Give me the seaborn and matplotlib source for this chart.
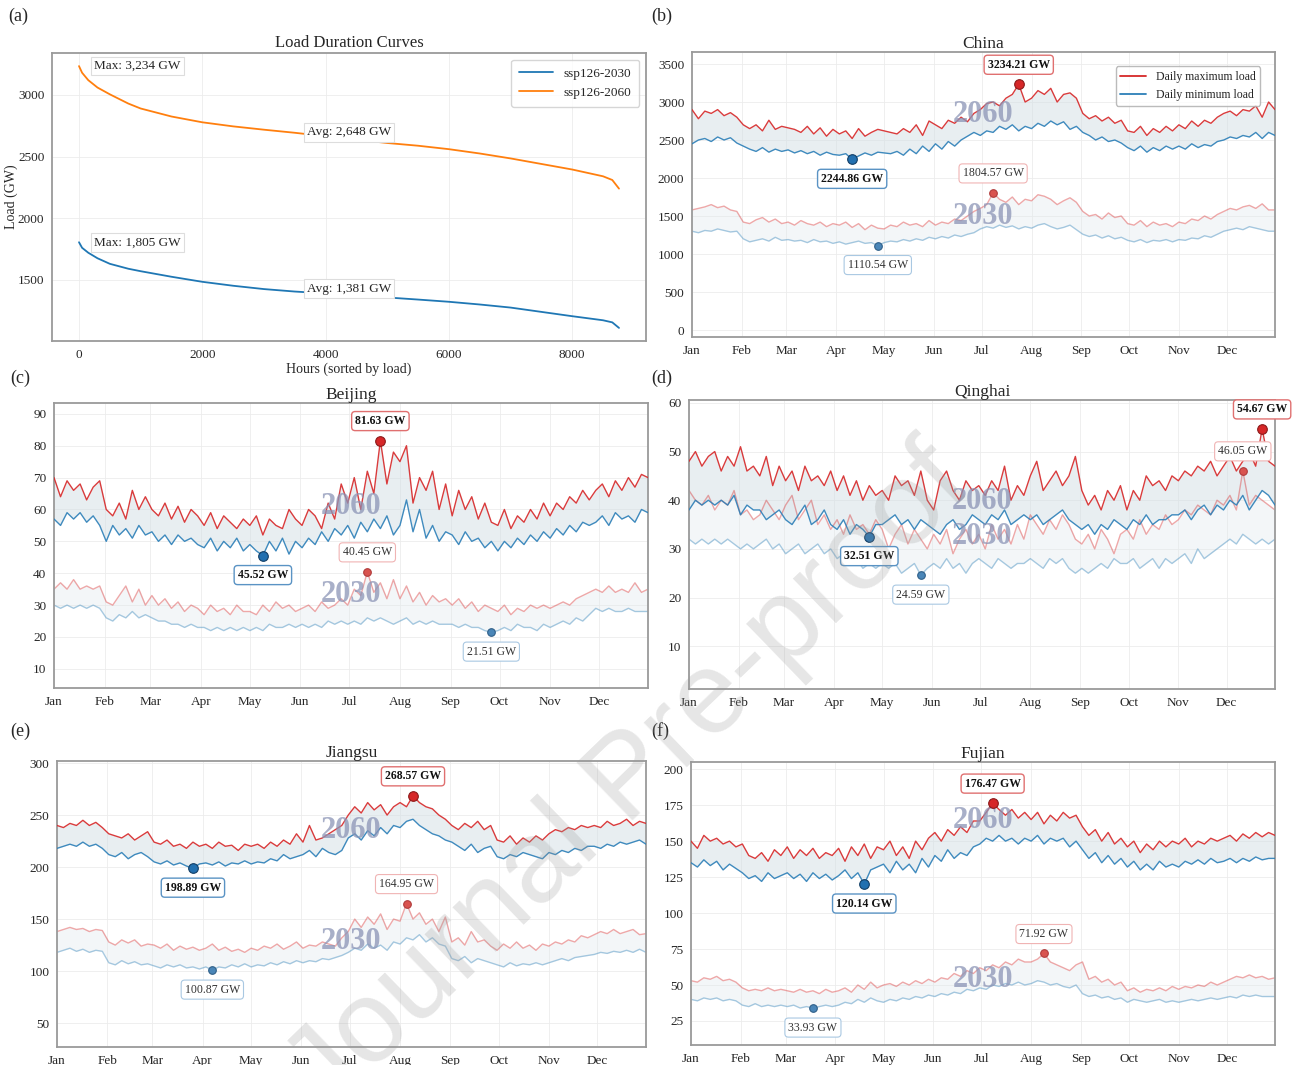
import numpy as np
import pandas as pd
import matplotlib
matplotlib.use("Agg")
import matplotlib.pyplot as plt
import matplotlib.dates as mdates
from matplotlib.lines import Line2D
import seaborn as sns

# ---------------- data ----------------
# load duration curves (national, hourly load sorted descending)
HOURS = [0, 50, 150, 300, 500, 800, 1000, 1500, 2000, 2500, 3000, 3500, 4000,
         4500, 5000, 5500, 6000, 6500, 7000, 7500, 8000, 8500, 8650, 8759]
LDC_2030 = [1805, 1760, 1720, 1675, 1630, 1590, 1570, 1525, 1484, 1452, 1425, 1405, 1390,
            1373, 1357, 1340, 1322, 1300, 1275, 1240, 1205, 1172, 1155, 1110]
LDC_2060 = [3234, 3180, 3120, 3060, 3005, 2930, 2890, 2825, 2778, 2745, 2718, 2693, 2665,
            2638, 2610, 2588, 2560, 2525, 2485, 2440, 2395, 2340, 2310, 2240]
AVG_2030 = 1381
AVG_2060 = 2648
SCENARIOS = ["ssp126-2030", "ssp126-2060"]

# daily maximum / minimum load, one value every 4 days (GW)
china_max_2060 = [2900, 2780, 2880, 2850, 2900, 2820, 2860, 2800,
                  2700, 2650, 2700, 2620, 2760, 2640, 2680,
                  2660, 2640, 2600, 2680, 2580, 2660, 2550, 2640,
                  2580, 2620, 2520, 2650, 2550, 2600, 2640,
                  2620, 2600, 2580, 2650, 2600, 2700, 2560, 2750,
                  2700, 2650, 2760, 2720, 2800, 2740, 2850,
                  2900, 2980, 3000, 2950, 3050, 3100, 3234.21, 3000,
                  3050, 3150, 3100, 3180, 3000, 3100, 3120, 3050,
                  2850, 2780, 2820, 2750, 2800, 2720, 2760,
                  2620, 2600, 2680, 2560, 2650, 2600, 2680, 2620,
                  2700, 2650, 2750, 2680, 2760, 2720, 2800,
                  2850, 2880, 2820, 2900, 2880, 2950, 2800, 3000, 2900]
china_min_2060 = [2450, 2500, 2520, 2480, 2540, 2500, 2530, 2460,
                  2420, 2380, 2350, 2400, 2340, 2380, 2350,
                  2370, 2330, 2360, 2320, 2350, 2300, 2340, 2310,
                  2300, 2320, 2244.86, 2290, 2330, 2300, 2340,
                  2330, 2320, 2350, 2300, 2380, 2320, 2420, 2350,
                  2450, 2380, 2480, 2420, 2500, 2550, 2600,
                  2560, 2620, 2600, 2680, 2640, 2700, 2620, 2680,
                  2650, 2720, 2680, 2750, 2700, 2740, 2640, 2680,
                  2600, 2560, 2500, 2540, 2480, 2500, 2460,
                  2400, 2360, 2420, 2340, 2400, 2360, 2420, 2380,
                  2420, 2380, 2450, 2400, 2440, 2420, 2480,
                  2500, 2540, 2520, 2560, 2540, 2600, 2520, 2600, 2560]
china_max_2030 = [1580, 1600, 1620, 1650, 1610, 1630, 1580, 1560,
                  1420, 1400, 1450, 1480, 1420, 1460, 1400,
                  1420, 1380, 1440, 1400, 1380, 1420, 1360, 1400,
                  1380, 1420, 1350, 1400, 1320, 1380, 1340,
                  1330, 1380, 1360, 1420, 1380, 1400, 1360, 1440,
                  1380, 1420, 1400, 1460, 1440, 1500, 1560,
                  1600, 1650, 1804.57, 1720, 1680, 1750, 1650, 1720,
                  1700, 1780, 1760, 1720, 1650, 1700, 1740, 1680,
                  1560, 1500, 1520, 1460, 1540, 1480, 1500,
                  1400, 1380, 1440, 1360, 1420, 1380, 1400, 1360,
                  1420, 1400, 1460, 1440, 1500, 1460, 1520,
                  1560, 1600, 1580, 1620, 1640, 1600, 1660, 1580, 1580]
china_min_2030 = [1300, 1280, 1310, 1300, 1330, 1310, 1290, 1300,
                  1200, 1160, 1180, 1200, 1170, 1220, 1180,
                  1190, 1170, 1180, 1150, 1190, 1160, 1170, 1140,
                  1160, 1130, 1150, 1170, 1140, 1150, 1110.54,
                  1150, 1170, 1160, 1190, 1170, 1200, 1180, 1220,
                  1200, 1230, 1210, 1250, 1230, 1260, 1280,
                  1330, 1360, 1340, 1380, 1350, 1370, 1330, 1360,
                  1340, 1380, 1400, 1360, 1330, 1350, 1380, 1320,
                  1260, 1230, 1250, 1210, 1240, 1200, 1220,
                  1180, 1160, 1190, 1150, 1180, 1170, 1190, 1160,
                  1190, 1180, 1210, 1200, 1240, 1220, 1260,
                  1300, 1320, 1340, 1320, 1360, 1340, 1320, 1300, 1300]

beijing_max_2060 = [70, 64, 69, 66, 68, 63, 67, 69,
                    60, 58, 62, 57, 66, 60, 64,
                    60, 58, 62, 57, 61, 56, 60, 58,
                    55, 59, 54, 58, 56, 54, 57,
                    55, 58, 52, 57, 55, 54, 60, 57,
                    55, 60, 58, 54, 62, 57, 68,
                    62, 70, 60, 72, 65, 81.63, 68, 78,
                    75, 80, 62, 70, 66, 72, 60, 68,
                    58, 66, 60, 64, 57, 62, 56,
                    55, 60, 54, 58, 56, 60, 57, 62,
                    58, 62, 60, 64, 62, 66, 63,
                    66, 68, 64, 69, 66, 70, 67, 71, 70]
beijing_min_2060 = [57, 55, 59, 57, 59, 56, 58, 55,
                    50, 55, 52, 54, 51, 55, 52,
                    53, 50, 52, 49, 52, 50, 51, 49,
                    48, 51, 47, 50, 48, 51, 47,
                    49, 47, 45.52, 50, 47, 51, 46, 50,
                    48, 51, 49, 53, 50, 54, 52,
                    55, 51, 56, 53, 57, 54, 58, 52,
                    55, 63, 53, 60, 51, 55, 50, 53,
                    52, 49, 53, 50, 51, 48, 50,
                    47, 50, 48, 51, 49, 52, 50, 53,
                    51, 54, 52, 55, 53, 56, 55,
                    56, 58, 55, 59, 57, 58, 56, 60, 59]
beijing_max_2030 = [35, 37, 35, 38, 35, 36, 35, 36,
                    31, 30, 33, 36, 31, 35, 30,
                    33, 30, 32, 29, 31, 28, 30, 29,
                    27, 30, 28, 29, 27, 30, 28,
                    28, 27, 30, 28, 31, 29, 30, 28,
                    29, 30, 28, 31, 29, 30, 32,
                    30, 35, 33, 40.45, 34, 37, 32, 38,
                    32, 36, 31, 34, 30, 33, 31, 32,
                    30, 32, 29, 31, 28, 30, 29,
                    28, 30, 27, 29, 28, 30, 29, 30,
                    29, 30, 31, 30, 32, 33, 34,
                    35, 34, 36, 34, 35, 34, 37, 34, 35]
beijing_min_2030 = [30, 29, 30, 29, 30, 29, 30, 29,
                    26, 25, 27, 26, 28, 26, 27,
                    26, 25, 25, 24, 24, 23, 24, 23,
                    23, 22, 23, 22, 23, 22, 23,
                    22, 23, 22, 24, 23, 23, 24, 23,
                    24, 23, 24, 23, 25, 24, 25,
                    24, 25, 24, 26, 25, 26, 25, 24,
                    25, 26, 24, 25, 24, 25, 24, 24,
                    24, 23, 24, 23, 23, 22, 21.51,
                    22, 23, 22, 24, 23, 23, 22, 24,
                    23, 24, 25, 24, 26, 25, 27,
                    29, 28, 29, 28, 28, 29, 28, 28, 28]

qinghai_max_2060 = [48, 50, 47, 49, 50, 46, 49, 47,
                    51, 46, 47, 45, 49, 43, 47,
                    44, 46, 42, 47, 44, 45, 43, 46,
                    42, 45, 41, 44, 40, 43, 41,
                    42, 40, 45, 43, 44, 41, 46, 40,
                    38, 44, 46, 42, 40, 44, 42,
                    43, 41, 44, 42, 47, 40, 43, 41,
                    45, 48, 42, 44, 46, 43, 45, 49,
                    42, 39, 41, 38, 42, 40, 43,
                    38, 42, 40, 45, 43, 44, 42, 45,
                    44, 46, 45, 47, 46, 48, 45,
                    47, 49, 46, 48, 50, 47, 54.67, 48, 47]
qinghai_min_2060 = [38, 40, 39, 40, 39, 40, 39, 41,
                    37, 39, 38, 38, 36, 37, 38,
                    36, 35, 37, 39, 35, 36, 38, 35,
                    34, 36, 33, 35, 34, 32.51, 35,
                    35, 36, 37, 35, 36, 34, 36, 35,
                    34, 33, 35, 36, 34, 35, 37,
                    36, 35, 37, 36, 38, 35, 36, 37,
                    36, 37, 35, 36, 37, 38, 36, 35,
                    34, 35, 33, 35, 34, 36, 35,
                    34, 36, 35, 37, 35, 36, 36, 37,
                    37, 38, 36, 38, 39, 37, 39,
                    38, 40, 39, 41, 38, 40, 42, 41, 39]
qinghai_max_2030 = [42, 40, 39, 41, 38, 40, 39, 42,
                    37, 38, 36, 37, 40, 38, 36,
                    39, 41, 36, 38, 40, 35, 37, 34,
                    36, 33, 37, 34, 35, 33, 36,
                    34, 30, 33, 35, 31, 34, 32, 30,
                    33, 31, 34, 29, 32, 34, 31,
                    33, 30, 35, 32, 34, 31, 35, 32,
                    37, 35, 33, 36, 34, 37, 35, 32,
                    31, 33, 30, 34, 32, 29, 33,
                    34, 32, 36, 33, 35, 34, 37, 35,
                    36, 38, 37, 39, 38, 37, 40,
                    39, 41, 38, 46.05, 39, 41, 40, 39, 38]
qinghai_min_2030 = [32, 31, 32, 31, 32, 31, 32, 31,
                    30, 31, 30, 31, 32, 30, 31,
                    29, 30, 31, 29, 30, 31, 29, 30,
                    28, 29, 27, 28, 26, 27, 26,
                    27, 26, 27, 25, 26, 27, 24.59, 26,
                    27, 26, 28, 26, 27, 25, 27,
                    28, 27, 26, 28, 27, 26, 27, 27,
                    28, 27, 26, 28, 27, 28, 26, 25,
                    26, 25, 26, 27, 26, 28, 27,
                    27, 28, 26, 27, 28, 26, 28, 27,
                    28, 29, 27, 30, 28, 29, 30,
                    31, 32, 31, 33, 32, 31, 32, 31, 32]

jiangsu_max_2060 = [240, 238, 242, 240, 245, 240, 243, 238,
                    232, 230, 228, 232, 226, 230, 234,
                    224, 222, 226, 220, 222, 218, 224, 220,
                    222, 218, 224, 220, 221, 216, 222,
                    220, 222, 218, 224, 220, 226, 222, 232,
                    224, 240, 226, 228, 232, 236, 240,
                    250, 258, 252, 262, 255, 260, 250, 258,
                    262, 258, 268.57, 262, 258, 256, 250, 246,
                    240, 236, 242, 238, 244, 236, 240,
                    226, 224, 230, 222, 228, 224, 230, 226,
                    232, 236, 234, 238, 236, 240, 238,
                    240, 238, 244, 240, 242, 246, 240, 244, 242]
jiangsu_min_2060 = [218, 220, 222, 220, 224, 220, 222, 218,
                    212, 210, 214, 208, 212, 214, 210,
                    205, 203, 206, 202, 204, 201, 198.89, 203,
                    204, 202, 205, 201, 204, 203, 206,
                    203, 205, 204, 208, 206, 212, 208, 210,
                    212, 216, 210, 218, 214, 212, 216,
                    228, 232, 226, 235, 230, 238, 232, 240,
                    238, 244, 246, 240, 236, 232, 230, 226,
                    224, 220, 216, 222, 214, 218, 220,
                    210, 208, 212, 210, 214, 212, 210, 208,
                    214, 212, 216, 214, 218, 216, 220,
                    220, 218, 222, 220, 224, 222, 224, 226, 222]
jiangsu_max_2030 = [138, 140, 142, 140, 141, 138, 140, 139,
                    128, 125, 130, 127, 130, 124, 126,
                    125, 122, 126, 120, 124, 121, 123, 120,
                    122, 126, 120, 123, 119, 121, 118,
                    122, 120, 124, 122, 126, 121, 124, 128,
                    122, 125, 124, 128, 126, 124, 132,
                    138, 150, 142, 152, 145, 155, 140, 150,
                    148, 164.95, 150, 156, 145, 150, 138, 152,
                    128, 132, 125, 138, 128, 130, 124,
                    120, 126, 122, 128, 122, 125, 120, 126,
                    124, 128, 126, 130, 128, 134, 132,
                    135, 138, 136, 140, 136, 138, 140, 135, 136]
jiangsu_min_2030 = [118, 120, 122, 119, 121, 118, 120, 119,
                    108, 106, 110, 107, 109, 106, 107,
                    105, 103, 106, 104, 106, 103, 104, 102,
                    104, 100.87, 104, 103, 106, 104, 107,
                    104, 106, 105, 108, 106, 109, 107, 110,
                    108, 110, 109, 112, 111, 113, 115,
                    118, 122, 120, 126, 122, 125, 120, 128,
                    126, 132, 130, 135, 128, 132, 126, 124,
                    112, 110, 114, 108, 112, 110, 108,
                    106, 104, 108, 105, 107, 106, 108, 106,
                    108, 110, 112, 110, 113, 114, 115,
                    116, 118, 117, 119, 118, 120, 118, 121, 118]

fujian_max_2060 = [150, 145, 154, 150, 152, 148, 150, 146,
                   148, 140, 138, 142, 136, 144, 140,
                   146, 138, 144, 140, 145, 138, 142, 140,
                   145, 136, 146, 140, 148, 138, 146,
                   144, 150, 140, 146, 138, 150, 144, 152,
                   156, 150, 158, 154, 160, 156, 164,
                   164, 170, 176.47, 172, 168, 172, 166, 170,
                   165, 170, 162, 168, 164, 170, 166, 168,
                   160, 154, 158, 150, 156, 148, 152,
                   146, 150, 142, 148, 144, 150, 146, 150,
                   148, 152, 146, 150, 148, 152, 150,
                   152, 154, 150, 155, 152, 156, 153, 156, 154]
fujian_min_2060 = [135, 132, 137, 133, 136, 130, 134, 131,
                   128, 124, 126, 122, 128, 124, 126,
                   128, 124, 127, 122, 128, 124, 127, 123,
                   126, 130, 124, 128, 120.14, 130, 132,
                   134, 128, 136, 130, 134, 128, 138, 132,
                   140, 136, 144, 138, 142, 140, 146,
                   148, 152, 150, 154, 150, 152, 148, 152,
                   150, 154, 148, 152, 150, 152, 146, 150,
                   144, 138, 142, 135, 140, 134, 138,
                   132, 136, 130, 134, 130, 136, 132, 134,
                   132, 136, 134, 137, 134, 138, 135,
                   136, 138, 135, 138, 136, 139, 137, 138, 138]
fujian_max_2030 = [53, 52, 55, 54, 56, 53, 54, 52,
                   48, 46, 47, 46, 48, 46, 47,
                   46, 45, 47, 45, 46, 44, 47, 45,
                   46, 48, 45, 50, 47, 52, 48,
                   50, 51, 49, 52, 50, 53, 51, 54,
                   52, 55, 54, 58, 56, 60, 58,
                   62, 60, 64, 62, 66, 64, 68, 66,
                   66, 68, 71.92, 66, 64, 62, 60, 64,
                   66, 54, 56, 52, 54, 50, 52,
                   46, 48, 45, 47, 46, 48, 46, 49,
                   47, 49, 48, 50, 49, 52, 50,
                   52, 54, 56, 55, 57, 55, 56, 54, 55]
fujian_min_2030 = [40, 39, 41, 40, 41, 39, 40, 39,
                   36, 35, 37, 35, 36, 35, 36,
                   35, 36, 34, 35, 33.93, 35, 36, 35,
                   36, 38, 37, 40, 38, 41, 39,
                   38, 40, 39, 41, 40, 42, 41, 43,
                   42, 44, 43, 45, 44, 47, 46,
                   48, 47, 50, 49, 51, 50, 52, 50,
                   51, 53, 52, 50, 51, 49, 48, 50,
                   44, 42, 43, 41, 42, 40, 41,
                   38, 40, 39, 38, 39, 40, 38, 39,
                   38, 39, 40, 39, 40, 41, 40,
                   41, 42, 41, 43, 42, 43, 42, 42, 42]

REGIONS = ["China", "Beijing", "Qinghai", "Jiangsu", "Fujian"]
YEARS = ["2060", "2030"]
LEGEND_LABELS = ["Daily maximum load", "Daily minimum load"]
PANEL_LETTERS = ["(a)", "(b)", "(c)", "(d)", "(e)", "(f)"]

# ---------------- style ----------------
sns.set_style("whitegrid", {"grid.color": "#ececec", "axes.edgecolor": "#9a9a9a"})
plt.rcParams["font.family"] = ["Liberation Serif", "DejaVu Serif"]
plt.rcParams["axes.linewidth"] = 1.3
plt.rcParams["grid.linewidth"] = 0.6

RED = "#d62728"
BLUE = "#2c7fb8"
YEAR_COLOR = "#8b94b6"

fig = plt.figure(figsize=(13.01, 10.65), dpi=100)
W, H = 1301, 1065


def px_axes(left, top, right, bottom):
    return fig.add_axes([left / W, 1 - bottom / H, (right - left) / W, (bottom - top) / H])


# ---------------- (a) load duration curves ----------------
ax = px_axes(52, 53, 646, 341)
ldc = pd.DataFrame({
    "hour": HOURS * 2,
    "load": LDC_2030 + LDC_2060,
    "scenario": [SCENARIOS[0]] * len(HOURS) + [SCENARIOS[1]] * len(HOURS),
})
sns.lineplot(data=ldc, x="hour", y="load", hue="scenario",
             palette=["#1f77b4", "#ff7f0e"], lw=1.3, ax=ax)
box_a = dict(boxstyle="square,pad=0.25", fc="white", ec="#dddddd", lw=0.8)
for curve, avg in [(LDC_2030, AVG_2030), (LDC_2060, AVG_2060)]:
    ax.text(250, curve[0], f"Max: {curve[0]:,.0f} GW", fontsize=9.5,
            ha="left", va="center", bbox=box_a)
    ax.text(max(HOURS) / 2, avg, f"Avg: {avg:,.0f} GW", fontsize=9.5,
            ha="center", va="bottom", bbox=box_a)
ax.set_title("Load Duration Curves", fontsize=12, pad=4)
ax.set_xlabel("Hours (sorted by load)", fontsize=10, labelpad=1)
ax.set_ylabel("Load (GW)", fontsize=10)
ax.yaxis.set_label_coords(-0.057, 0.5)
ax.tick_params(labelsize=9.5, pad=2)
ax.set_xticks([0, 2000, 4000, 6000, 8000])
ax.set_yticks([1500, 2000, 2500, 3000])
ax.legend(loc="upper right", fontsize=9.5, frameon=True, edgecolor="#cccccc",
          handlelength=2.6, borderpad=0.6)

# ---------------- (b)-(f) daily max / min ----------------
dates = pd.date_range("2030-01-01", periods=len(china_max_2060), freq="4D")

panels = [
    ("China", (692, 52, 1275, 337), (-92, 3658),
     china_max_2060, china_min_2060, china_max_2030, china_min_2030, (2842, 1487)),
    ("Beijing", (54, 403, 648, 688), (4.0, 93.4),
     beijing_max_2060, beijing_min_2060, beijing_max_2030, beijing_min_2030, (61, 33.3)),
    ("Qinghai", (689, 400, 1275, 689), (1.2, 60.6),
     qinghai_max_2060, qinghai_min_2060, qinghai_max_2030, qinghai_min_2030, (39.7, 32.5)),
    ("Jiangsu", (57, 761, 646, 1047), (27, 302),
     jiangsu_max_2060, jiangsu_min_2060, jiangsu_max_2030, jiangsu_min_2030, (235.6, 128)),
    ("Fujian", (691, 762, 1275, 1045), (8.3, 205),
     fujian_max_2060, fujian_min_2060, fujian_max_2030, fujian_min_2030, (164.6, 54)),
]


def mark_extreme(ax, vals, kind, strong):
    vals = np.asarray(vals, dtype=float)
    i = int(np.argmax(vals)) if kind == "max" else int(np.argmin(vals))
    x, y = dates[i], vals[i]
    if kind == "max":
        fc = "#d62728" if strong else "#d9534f"
        ec = "#8b1a1a" if strong else "#b03a3a"
        box_ec = "#e07070" if strong else "#f0b4b4"
        dy = 14
    else:
        fc = "#2270b0" if strong else "#4a86b8"
        ec = "#123e66" if strong else "#2f5f88"
        box_ec = "#5a93c4" if strong else "#a9c8e2"
        dy = -14
    ax.scatter([x], [y], s=48 if strong else 30, color=fc, edgecolor=ec,
               linewidth=0.8, zorder=6)
    ax.annotate(f"{y:.2f} GW", xy=(x, y), xytext=(0, dy), textcoords="offset points",
                ha="center", va="center", fontsize=8.5,
                fontweight="bold" if strong else "normal",
                color="#111111" if strong else "#333333", zorder=7,
                bbox=dict(boxstyle="round,pad=0.3", fc="white", ec=box_ec,
                          lw=1.0 if strong else 0.8))


for idx, (name, box, ylim, mx60, mn60, mx30, mn30, ypos) in enumerate(panels):
    ax = px_axes(*box)
    # 2030 band (faint) and 2060 band
    ax.fill_between(dates, mn30, mx30, color="#dfe8ec", alpha=0.35, lw=0, zorder=1)
    ax.fill_between(dates, mn60, mx60, color="#d3dfe5", alpha=0.5, lw=0, zorder=1)
    sns.lineplot(x=dates, y=mx30, color=RED, alpha=0.4, lw=1.0, ax=ax, zorder=2)
    sns.lineplot(x=dates, y=mn30, color=BLUE, alpha=0.4, lw=1.0, ax=ax, zorder=2)
    sns.lineplot(x=dates, y=mx60, color=RED, alpha=0.9, lw=1.0, ax=ax, zorder=3)
    sns.lineplot(x=dates, y=mn60, color=BLUE, alpha=0.9, lw=1.0, ax=ax, zorder=3)

    mid = dates[0] + (dates[-1] - dates[0]) / 2
    for yr, yv in zip(YEARS, ypos):
        ax.text(mid, yv, yr, fontsize=22, fontweight="bold", color=YEAR_COLOR,
                alpha=0.75, ha="center", va="center", zorder=4)

    mark_extreme(ax, mx60, "max", True)
    mark_extreme(ax, mn60, "min", True)
    mark_extreme(ax, mx30, "max", False)
    mark_extreme(ax, mn30, "min", False)

    ax.set_xlim(dates[0], dates[-1])
    ax.set_ylim(*ylim)
    ax.xaxis.set_major_locator(mdates.MonthLocator())
    ax.xaxis.set_major_formatter(mdates.DateFormatter("%b"))
    ax.tick_params(labelsize=9.5, pad=2)
    ax.set_title(name, fontsize=12.5, pad=3)
    ax.set_xlabel("")
    ax.set_ylabel("")
    if idx == 0:
        handles = [Line2D([], [], color=RED, lw=1.3), Line2D([], [], color=BLUE, lw=1.3)]
        ax.legend(handles, LEGEND_LABELS, loc="upper right", fontsize=8.5,
                  frameon=True, edgecolor="#aaaaaa", handlelength=2.2,
                  bbox_to_anchor=(0.985, 0.97))
    else:
        leg = ax.get_legend()
        if leg is not None:
            leg.remove()

# panel letters
for letter, (px, py) in zip(PANEL_LETTERS, [(8, 16), (651, 16), (10, 378), (651, 378),
                                             (10, 731), (651, 731)]):
    fig.text(px / W, 1 - py / H, letter, fontsize=13, ha="left", va="center")

# diagonal watermark
fig.text(630 / W, 1 - 780 / H, "Journal Pre-proof", rotation=44, fontsize=84,
         family=["Liberation Sans", "DejaVu Sans"], color="#9a9a9a", alpha=0.25,
         ha="center", va="center", zorder=20)

fig.savefig("out.png", dpi=100)
